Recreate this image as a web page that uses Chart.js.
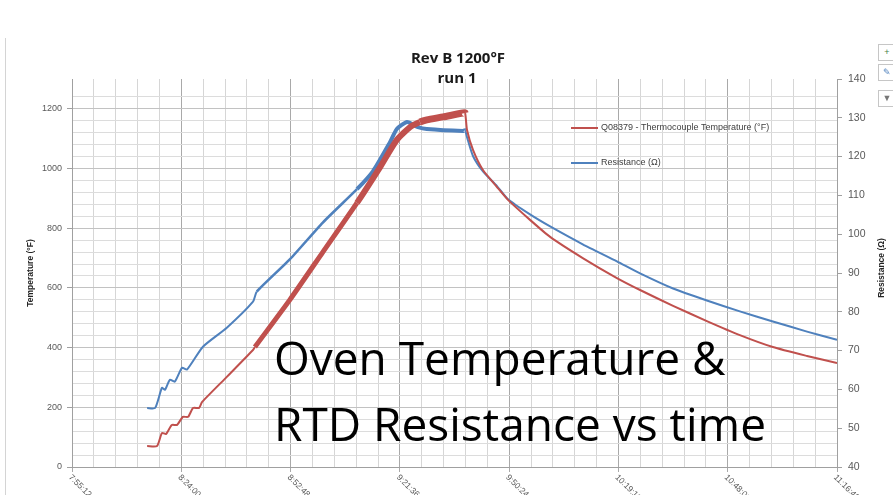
<!DOCTYPE html>
<html>
<head>
<meta charset="utf-8">
<title>Rev B 1200°F run 1</title>
<script src="https://cdn.jsdelivr.net/npm/chart.js@4.4.1/dist/chart.umd.min.js"></script>
<style>
    html, body { margin: 0; padding: 0; background: #fff; }
    #wrap { position: relative; width: 893px; height: 495px; overflow: hidden; }
    #frame { position: absolute; left: 5px; top: 38px; width: 1px; height: 470px; background: #d4d4d4; }
    .btn { position: absolute; left: 878px; width: 16px; height: 15px; border: 1px solid #c6c6c6; background: #fff;
           font: 9px "Liberation Sans"; color: #3f7f4a; text-align: center; line-height: 15px; }
    .overlay { position: absolute; left: 274px; font-family: "Open Sans"; font-size: 46px; color: #000;
               white-space: nowrap; line-height: 1; }
</style>
</head>
<body>
<div id="wrap">
    <canvas id="ovenChart" width="893" height="495"></canvas>
    <div id="frame"></div>
    <div class="btn" style="top:44px">+</div>
    <div class="btn" style="top:64px;color:#4f81bd">&#9998;</div>
    <div class="btn" style="top:90px;color:#777">&#9660;</div>
    <div class="overlay" style="top:334px">Oven Temperature &amp;</div>
    <div class="overlay" style="top:400px">RTD Resistance vs time</div>
</div>
<script>
// minutes after 7:55:12 (start of the x axis)
const tempTime = [19.8, 22.4, 23.7, 24.8, 26.3, 27.7, 29.2, 30.6, 31.9, 33.5,
    34.3, 40.8, 47.7, 48.2, 57.4, 66.1, 75.1, 81.2, 85.6, 89.1,
    91.7, 93.5, 97.8, 103.0, 103.6, 104.1, 105.7, 108.3, 112.0, 114.9,
    120.7, 126.0, 134.6, 143.6, 149.7, 158.4, 167.3, 176.0, 184.7, 193.7, 201.6];
// Q08379 thermocouple, °F
const tempValues = [70, 70, 114, 111, 141, 141, 168, 168, 198, 198,
    218, 302, 392, 402, 560, 720, 885, 1005, 1096, 1139,
    1156, 1163, 1173, 1186, 1186, 1129, 1062, 995, 938, 895,
    828, 771, 700, 633, 593, 540, 489, 442, 402, 372, 348];

const resTime = [19.8, 21.9, 23.7, 24.5, 25.8, 27.1, 29.0, 30.3, 34.5, 40.8,
    47.7, 48.7, 57.4, 66.1, 75.1, 79.3, 83.8, 85.6, 88.3, 91.2,
    93.5, 103.0, 103.6, 104.1, 105.7, 108.3, 112.0, 114.9, 120.7, 126.0,
    134.6, 143.6, 149.7, 158.4, 167.3, 176.0, 184.7, 193.7, 201.6];
// RTD resistance, ohm
const resValues = [55.2, 55.2, 60.4, 59.9, 62.5, 62.0, 65.6, 65.1, 71.0, 75.9,
    82.6, 85.2, 93.5, 103.0, 111.6, 116.2, 123.7, 127.1, 128.9, 127.6,
    127.1, 126.6, 126.8, 125.0, 120.1, 116.2, 112.4, 109.0, 105.1, 102.0,
    97.4, 93.0, 89.9, 86.0, 82.9, 80.1, 77.5, 74.9, 72.8];

const timeLabels = ['7:55:12', '8:24:00', '8:52:48', '9:21:36', '9:50:24', '10:19:12', '10:48:00', '11:16:48'];
const majorStep = 28.8;   // minutes between labelled times
const seriesNames = ['Q08379 - Thermocouple Temperature (°F)', 'Resistance (Ω)'];
const seriesColors = ['#C0504D', '#4F81BD'];

document.addEventListener('DOMContentLoaded', function() {
    const ctx = document.getElementById('ovenChart').getContext('2d');

    const isMajorX = v => Math.abs(v / majorStep - Math.round(v / majorStep)) < 1e-6;

    // noisy parts of the trace are drawn thicker
    function tempWidth(c) {
        const a = c.p0.parsed.x, b = c.p1.parsed.x;
        if (a >= 91 && b <= 103.7) return 7;
        if (a >= 75 && b <= 103.7) return 6;
        if (a >= 48 && b <= 103.7) return 5;
        return 2;
    }
    function resWidth(c) {
        const a = c.p0.parsed.x, b = c.p1.parsed.x;
        if (a >= 75 && b <= 103.7) return 4;
        if (a >= 48 && b <= 75.2) return 2.6;
        return 2;
    }

    const extras = {
        id: 'extras',
        afterDraw(chart) {
            const c = chart.ctx;
            const xs = chart.scales.x;
            c.save();

            // title
            c.fillStyle = '#1a1a1a';
            c.textAlign = 'center';
            c.textBaseline = 'alphabetic';
            c.font = 'bold 15px "Open Sans"';
            c.fillText('Rev B 1200°F', 458, 63);
            c.fillText('run 1', 457, 83);

            // slanted time labels
            c.fillStyle = '#595959';
            c.font = '8.5px "Liberation Sans"';
            timeLabels.forEach((lbl, i) => {
                const px = xs.getPixelForValue(i * majorStep);
                c.save();
                c.translate(px - 2, xs.top + 9);
                c.rotate(Math.PI / 4);
                c.textAlign = 'left';
                c.textBaseline = 'middle';
                c.fillText(lbl, 0, 0);
                c.restore();
            });

            // axis titles
            c.fillStyle = '#262626';
            c.font = 'bold 8.5px "Liberation Sans"';
            c.textAlign = 'center';
            c.textBaseline = 'middle';
            c.save();
            c.translate(31, 273);
            c.rotate(-Math.PI / 2);
            c.fillText('Temperature (°F)', 0, 0);
            c.restore();
            c.save();
            c.translate(882, 268);
            c.rotate(-Math.PI / 2);
            c.fillText('Resistance (Ω)', 0, 0);
            c.restore();

            // legend inside the plot
            const legendY = [128, 163];
            c.font = '9px "Liberation Sans"';
            c.textAlign = 'left';
            seriesNames.forEach((name, i) => {
                c.strokeStyle = seriesColors[i];
                c.lineWidth = 2;
                c.beginPath();
                c.moveTo(571, legendY[i]);
                c.lineTo(598, legendY[i]);
                c.stroke();
                c.fillStyle = '#404040';
                c.fillText(name, 601, legendY[i]);
            });
            c.restore();
        }
    };

    const chart = new Chart(ctx, {
        type: 'line',
        data: {
            datasets: [{
                label: seriesNames[0],
                data: tempTime.map((t, i) => ({ x: t, y: tempValues[i] })),
                borderColor: seriesColors[0],
                borderWidth: 2,
                pointRadius: 0,
                tension: 0.2,
                yAxisID: 'y',
                segment: { borderWidth: tempWidth }
            }, {
                label: seriesNames[1],
                data: resTime.map((t, i) => ({ x: t, y: resValues[i] })),
                borderColor: seriesColors[1],
                borderWidth: 2,
                pointRadius: 0,
                tension: 0.2,
                yAxisID: 'y1',
                segment: { borderWidth: resWidth }
            }]
        },
        options: {
            responsive: false,
            animation: false,
            layout: { padding: { top: 79 } },
            plugins: {
                legend: { display: false },
                tooltip: { enabled: false }
            },
            scales: {
                x: {
                    type: 'linear',
                    min: 0,
                    max: majorStep * 7,
                    ticks: { display: false, stepSize: majorStep / 5 },
                    grid: {
                        color: c => isMajorX(c.tick.value) ? '#a9a9a9' : '#d6d6d6',
                        tickColor: c => isMajorX(c.tick.value) ? '#a9a9a9' : 'rgba(0,0,0,0)',
                        tickLength: 5
                    },
                    border: { color: '#a0a0a0' },
                    afterFit: s => { s.height = 28; }
                },
                y: {
                    position: 'left',
                    min: 0,
                    max: 1300,
                    ticks: {
                        stepSize: 40,
                        autoSkip: false,
                        padding: 5,
                        color: '#595959',
                        font: { family: 'Liberation Sans', size: 9 },
                        callback: v => (v % 200 === 0 ? v : '')
                    },
                    grid: {
                        color: c => c.tick.value % 200 === 0 ? '#c2c2c2' : (c.tick.value % 40 === 0 ? '#dcdcdc' : 'rgba(0,0,0,0)'),
                        tickColor: c => c.tick.value % 200 === 0 ? '#a0a0a0' : 'rgba(0,0,0,0)',
                        tickLength: 5
                    },
                    border: { color: '#a0a0a0' },
                    afterFit: s => { s.width = 72; }
                },
                y1: {
                    position: 'right',
                    min: 40,
                    max: 140,
                    ticks: {
                        stepSize: 10,
                        padding: 6,
                        color: '#595959',
                        font: { family: 'Liberation Sans', size: 10.5 }
                    },
                    grid: { drawOnChartArea: false, color: '#a0a0a0', tickLength: 5 },
                    border: { color: '#a0a0a0' },
                    afterFit: s => { s.width = 56; }
                }
            }
        },
        plugins: [extras]
    });
});
</script>
</body>
</html>
